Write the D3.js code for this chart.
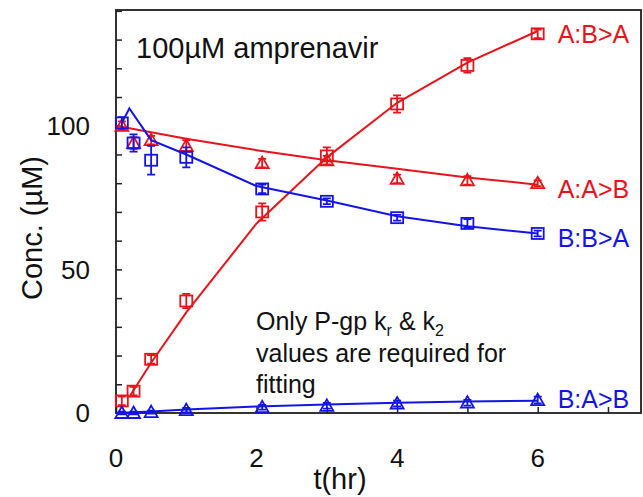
<!DOCTYPE html>
<html>
<head>
<meta charset="utf-8">
<script src="https://cdn.jsdelivr.net/npm/d3@7"></script>
<style>
  body { margin: 0; background: #fff; }
  svg { display: block; font-family: Arial, "Liberation Sans", sans-serif; }
</style>
</head>
<body>
<div id="chart"></div>
<script>
// measured time points (hr)
var times = [0.083, 0.25, 0.5, 1, 2.08, 3, 4, 5, 6];

// observed concentrations (uM) and error bars
var abaObs = [4.2, 7.6, 18.7, 39, 70, 89.5, 107.6, 121, 132];
var abaErr = [1.5, 1.5, 1.5, 2.5, 3, 3, 3, 2.5, 1.5];
var aabObs = [100, 94, 95, 93, 87, 88, 81.5, 81, 80];
var aabErr = [1.5, 2, 1.5, 2, 1.5, 1.5, 1.5, 1.5, 1];
var bbaObs = [101, 94, 88, 89, 78, 73.7, 68, 66, 62.5];
var bbaErr = [2, 3, 5, 3.5, 1.5, 1, 1, 1.5, 1];
var babObs = [0, 0, 0.3, 1, 2, 2.5, 3.3, 3.6, 4.5];
var babErr = [0.5, 0.5, 0.5, 0.8, 0.8, 1, 1, 1, 1.2];

// model fit curves
var abaFitT = [0.2, 0.5, 1, 2, 3, 4, 5, 6];
var abaFit = [6, 17.5, 35, 66, 89, 108, 122, 133];
var aabFitT = [0, 1, 2, 3, 4, 5, 6];
var aabFit = [100, 95.5, 91.5, 88, 85, 82, 79.5];
var bbaFitT = [0.083, 0.19, 0.5, 1, 2, 3, 4, 5, 6];
var bbaFit = [101, 106, 95, 90, 79, 74, 68.5, 65, 62.5];
var babFitT = [0, 0.5, 1, 2, 3, 4, 5, 6];
var babFit = [0, 0.5, 1.2, 2.3, 3, 3.6, 4.0, 4.3];

var xTickLabels = [0, 2, 4, 6];
var yTickLabels = [0, 50, 100];

var RED = "#e8141c", BLUE = "#1414e8";

var series = [
  {name: "A:B>A", color: RED, shape: "square", obs: abaObs, err: abaErr, fitT: abaFitT, fit: abaFit, labelY: 132},
  {name: "A:A>B", color: RED, shape: "triangle", obs: aabObs, err: aabErr, fitT: aabFitT, fit: aabFit, labelY: 78},
  {name: "B:B>A", color: BLUE, shape: "square", obs: bbaObs, err: bbaErr, fitT: bbaFitT, fit: bbaFit, labelY: 61},
  {name: "B:A>B", color: BLUE, shape: "triangle", obs: babObs, err: babErr, fitT: babFitT, fit: babFit, labelY: 5}
];

var W = 643, H = 497;
var margin = {top: 10, right: 2, bottom: 84, left: 116};
var width = W - margin.left - margin.right,
    height = H - margin.top - margin.bottom;

var svg = d3.select("#chart").append("svg")
    .attr("width", W).attr("height", H);
var g = svg.append("g")
    .attr("transform", "translate(" + margin.left + "," + margin.top + ")");

var x = d3.scaleLinear().domain([0, 7.47]).range([0, width]);
var y = d3.scaleLinear().domain([0, 140.3]).range([height, 0]);

// frame
g.append("rect")
    .attr("width", width).attr("height", height)
    .attr("fill", "none").attr("stroke", "#333").attr("stroke-width", 2);

// inward ticks
g.append("g").call(d3.axisBottom(x).tickValues(d3.range(0, 8)).tickSize(-6).tickFormat(""))
    .attr("transform", "translate(0," + height + ")")
    .call(function(s) { s.select(".domain").remove(); s.selectAll("line").attr("stroke", "#222").attr("stroke-width", 1.5); });
g.append("g").call(d3.axisLeft(y).tickValues(d3.range(0, 141, 10)).tickSize(-6).tickFormat(""))
    .call(function(s) { s.select(".domain").remove(); s.selectAll("line").attr("stroke", "#222").attr("stroke-width", 1.5); });

// tick labels
g.selectAll(".xl").data(xTickLabels).enter().append("text")
    .attr("x", function(d) { return x(d); }).attr("y", height + 54)
    .attr("text-anchor", "middle").attr("font-size", 26).attr("fill", "#111")
    .text(function(d) { return d; });
g.selectAll(".yl").data(yTickLabels).enter().append("text")
    .attr("x", -26).attr("y", function(d) { return y(d); }).attr("dy", "0.36em")
    .attr("text-anchor", "end").attr("font-size", 26).attr("fill", "#111")
    .text(function(d) { return d; });

// axis titles
svg.append("text")
    .attr("x", 340).attr("y", 489)
    .attr("text-anchor", "middle").attr("font-size", 29).attr("fill", "#111")
    .text("t(hr)");
svg.append("text")
    .attr("transform", "translate(42,228) rotate(-90)")
    .attr("text-anchor", "middle").attr("font-size", 29).attr("fill", "#111")
    .text("Conc. (\u00b5M)");

// title and note
g.append("text").attr("x", 20).attr("y", 48)
    .attr("font-size", 29).attr("fill", "#111").text("100\u00b5M amprenavir");
var note = g.append("text").attr("font-size", 25).attr("fill", "#111");
note.append("tspan").attr("x", 140).attr("y", 320).text("Only P-gp k");
note.append("tspan").attr("font-size", 16).attr("dy", 6).text("r");
note.append("tspan").attr("dy", -6).text(" & k");
note.append("tspan").attr("font-size", 16).attr("dy", 6).text("2");
note.append("tspan").attr("x", 140).attr("y", 352).text("values are required for");
note.append("tspan").attr("x", 140).attr("y", 383).text("fitting");

var line = d3.line().x(function(d) { return x(d[0]); }).y(function(d) { return y(d[1]); });

series.forEach(function(s) {
    var sg = g.append("g");
    sg.append("path")
        .datum(s.fitT.map(function(t, i) { return [t, s.fit[i]]; }))
        .attr("d", line).attr("fill", "none")
        .attr("stroke", s.color).attr("stroke-width", 2);

    var pts = times.map(function(t, i) { return {t: t, v: s.obs[i], e: s.err[i]}; });
    var pg = sg.selectAll(".pt").data(pts).enter().append("g")
        .attr("transform", function(d) { return "translate(" + x(d.t) + "," + y(d.v) + ")"; })
        .attr("stroke", s.color).attr("fill", "none").attr("stroke-width", 1.8);

    // error bars
    pg.append("path").attr("d", function(d) {
        var e = y(0) - y(d.e);
        return "M0," + (-e) + "V" + e + "M-4," + (-e) + "H4M-4," + e + "H4";
    });
    if (s.shape === "square") {
        pg.append("rect").attr("x", -6).attr("y", -5.5).attr("width", 12).attr("height", 11);
    } else {
        pg.append("path").attr("d", "M0,-6.5L6.5,5L-6.5,5Z");
    }

    g.append("text")
        .attr("x", x(6) + 20).attr("y", y(s.labelY)).attr("dy", "0.36em")
        .attr("font-size", 25).attr("fill", s.color)
        .text(s.name);
});
</script>
</body>
</html>
